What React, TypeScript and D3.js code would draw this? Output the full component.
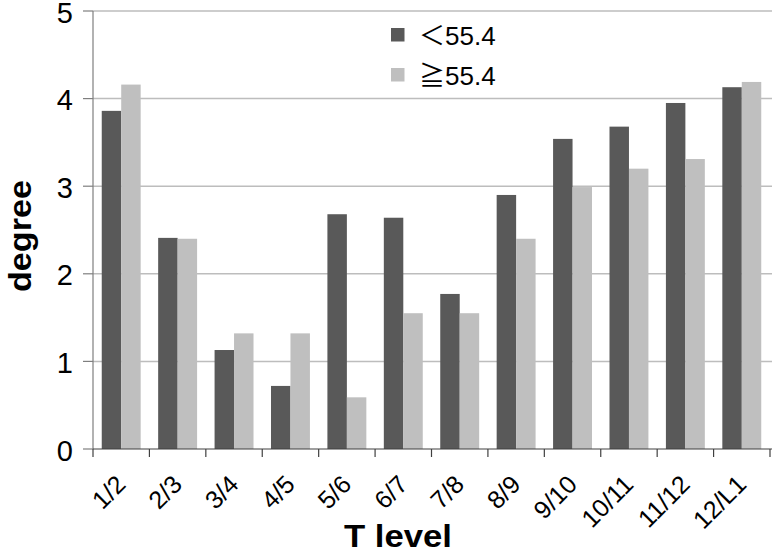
import React from "react";
import * as d3 from "d3";

const categories = ["1/2", "2/3", "3/4", "4/5", "5/6", "6/7", "7/8", "8/9", "9/10", "10/11", "11/12", "12/L1"];
const belowValues = [3.86, 2.41, 1.13, 0.72, 2.68, 2.64, 1.77, 2.9, 3.54, 3.68, 3.95, 4.13];
const aboveValues = [4.16, 2.4, 1.32, 1.32, 0.59, 1.55, 1.55, 2.4, 2.99, 3.2, 3.31, 4.19];
const seriesNames = ["below", "above"];
const seriesLabels = [
  { sym: "＜", num: "55.4" },
  { sym: "≧", num: "55.4" },
];
const seriesColors = ["#595959", "#bfbfbf"];
const yTicks = [0, 1, 2, 3, 4, 5];

const W = 772;
const H = 555;
const left = 93;
const right = 770;
const top = 11;
const bottom = 449;
const FONT = "'Liberation Sans', Arial, 'Noto Sans CJK JP', sans-serif";
const CJK = "'Noto Sans CJK JP', 'Noto Sans CJK SC', sans-serif";

export default function App() {
  const x = d3.scaleBand<string>().domain(categories).range([left, right]).paddingInner(0.31).paddingOuter(0.155);
  const xs = d3.scaleBand<string>().domain(seriesNames).range([0, x.bandwidth()]).padding(0);
  const y = d3.scaleLinear().domain([0, 5]).range([bottom, top]);
  const step = x.step();
  const data = [belowValues, aboveValues];

  return (
    <svg width={W} height={H} style={{ position: "absolute", left: 0, top: 0, background: "#fff" }} fontFamily={FONT}>
      {/* gridlines */}
      {yTicks.filter((t) => t > 0).map((t) => (
        <line key={"g" + t} x1={left} x2={W} y1={y(t)} y2={y(t)} stroke="#bdbdbd" strokeWidth={1.5} />
      ))}
      {/* bars */}
      {categories.map((c, i) =>
        seriesNames.map((s, j) => (
          <rect
            key={c + s}
            x={(x(c) as number) + (xs(s) as number)}
            y={y(data[j][i])}
            width={xs.bandwidth()}
            height={y(0) - y(data[j][i])}
            fill={seriesColors[j]}
          />
        ))
      )}
      {/* y axis */}
      <line x1={left} x2={left} y1={top} y2={bottom} stroke="#7f7f7f" strokeWidth={1.2} />
      {yTicks.map((t) => (
        <g key={"y" + t}>
          <line x1={left - 10} x2={left} y1={y(t)} y2={y(t)} stroke="#7f7f7f" strokeWidth={1.2} />
          <text x={73} y={y(t) + 11.5} textAnchor="end" fontSize={29} fill="#000" transform={`translate(0 0)`}>
            {t}
          </text>
        </g>
      ))}
      {/* x axis */}
      <line x1={left} x2={W} y1={bottom} y2={bottom} stroke="#404040" strokeWidth={1.2} />
      {d3.range(categories.length + 1).map((k) => (
        <line key={"xt" + k} x1={left + k * step} x2={left + k * step} y1={bottom} y2={bottom + 8} stroke="#404040" strokeWidth={1.2} />
      ))}
      {categories.map((c) => {
        const cx = (x(c) as number) + x.bandwidth() / 2 + 6;
        const cy = 486;
        return (
          <text key={"xl" + c} x={cx} y={cy} textAnchor="end" fontSize={25} transform={`rotate(-45 ${cx} ${cy})`} fill="#000">
            {c}
          </text>
        );
      })}
      {/* axis titles */}
      <text x={398} y={547} textAnchor="middle" fontSize={31} fontWeight="bold" textLength={108} lengthAdjust="spacingAndGlyphs">
        T level
      </text>
      <text
        x={0}
        y={0}
        transform={`translate(31 236) rotate(-90)`}
        textAnchor="middle"
        fontSize={32}
        fontWeight="bold"
        textLength={112}
        lengthAdjust="spacingAndGlyphs"
      >
        degree
      </text>
      {/* legend */}
      {seriesLabels.map((l, j) => (
        <g key={"lg" + j} transform={`translate(391 ${28 + j * 40})`}>
          <rect x={0} y={0} width={13.5} height={13.5} fill={seriesColors[j]} />
          <text x={28} y={17} fontSize={26} fill="#000">
            <tspan fontFamily={CJK}>{l.sym}</tspan>
            <tspan>{l.num}</tspan>
          </text>
        </g>
      ))}
    </svg>
  );
}
